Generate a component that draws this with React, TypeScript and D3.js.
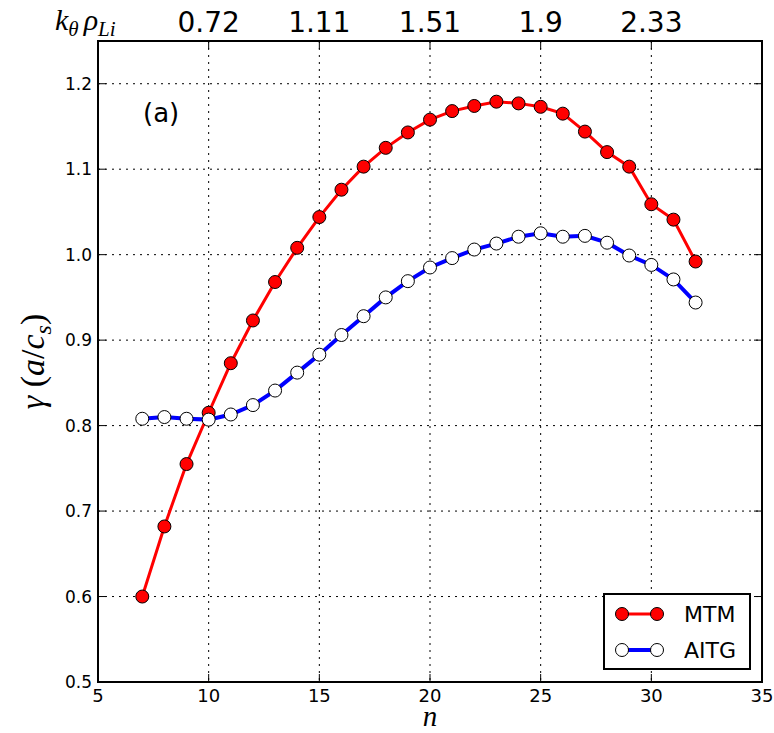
import React from "react";
import * as d3 from "d3";

const nValues = [7, 8, 9, 10, 11, 12, 13, 14, 15, 16, 17, 18, 19, 20, 21, 22, 23, 24, 25, 26, 27, 28, 29, 30, 31, 32];
const mtm = [0.600, 0.682, 0.755, 0.815, 0.873, 0.923, 0.968, 1.008, 1.044, 1.076, 1.103, 1.125, 1.143, 1.158, 1.168, 1.174, 1.179, 1.177, 1.173, 1.165, 1.144, 1.120, 1.103, 1.059, 1.041, 0.992];
const aitg = [0.808, 0.810, 0.808, 0.807, 0.813, 0.824, 0.841, 0.862, 0.883, 0.906, 0.928, 0.950, 0.969, 0.985, 0.996, 1.006, 1.013, 1.021, 1.025, 1.021, 1.022, 1.014, 0.999, 0.988, 0.971, 0.944];
const xTicks = [5, 10, 15, 20, 25, 30, 35];
const yTicks = [0.5, 0.6, 0.7, 0.8, 0.9, 1.0, 1.1, 1.2];
const topTickPos = [10, 15, 20, 25, 30];
const topTickLabels = ["0.72", "1.11", "1.51", "1.9", "2.33"];

export default function App() {
  const W = 774, H = 733;
  const L = 98, R = 762, T = 41, B = 682;
  const x = d3.scaleLinear().domain([5, 35]).range([L, R]);
  const y = d3.scaleLinear().domain([0.5, 1.25]).range([B, T]);
  const line = d3.line<number>().x((_, i) => x(nValues[i])).y((d) => y(d));
  const sans = "DejaVu Sans, sans-serif";
  const serif = "Liberation Serif, DejaVu Serif, serif";
  const tk = 8;
  return (
    <svg width={W} height={H} style={{ position: "absolute", left: 0, top: 0, background: "#fff" }}>
      <rect x={0} y={0} width={W} height={H} fill="#fff" />
      {/* grid */}
      {xTicks.slice(1, -1).map((t) => (
        <line key={"gx" + t} x1={x(t)} x2={x(t)} y1={T} y2={B} stroke="#000" strokeWidth={1} strokeDasharray="2,5" />
      ))}
      {yTicks.slice(1).map((t) => (
        <line key={"gy" + t} x1={L} x2={R} y1={y(t)} y2={y(t)} stroke="#000" strokeWidth={1} strokeDasharray="2,5" />
      ))}
      {/* ticks */}
      {xTicks.map((t) => (
        <g key={"tx" + t}>
          <line x1={x(t)} x2={x(t)} y1={B} y2={B - tk} stroke="#000" />
          <text x={x(t)} y={B + 20} textAnchor="middle" fontFamily={sans} fontSize={18}>{t}</text>
        </g>
      ))}
      {topTickPos.map((t, i) => (
        <g key={"tt" + t}>
          <line x1={x(t)} x2={x(t)} y1={T} y2={T + tk} stroke="#000" />
          <text x={x(t)} y={T - 9} textAnchor="middle" fontFamily={sans} fontSize={28}>{topTickLabels[i]}</text>
        </g>
      ))}
      {yTicks.map((t) => (
        <g key={"ty" + t}>
          <line x1={L} x2={L + tk} y1={y(t)} y2={y(t)} stroke="#000" />
          <line x1={R} x2={R - tk} y1={y(t)} y2={y(t)} stroke="#000" />
          <text x={L - 6} y={y(t) + 6} textAnchor="end" fontFamily={sans} fontSize={17}>{t.toFixed(1)}</text>
        </g>
      ))}
      {/* series */}
      <path d={line(mtm) || ""} fill="none" stroke="#ff0000" strokeWidth={3} />
      <path d={line(aitg) || ""} fill="none" stroke="#0000ff" strokeWidth={4} />
      {mtm.map((v, i) => (
        <circle key={"m" + i} cx={x(nValues[i])} cy={y(v)} r={6.5} fill="#ff0000" stroke="#000" strokeWidth={1} />
      ))}
      {aitg.map((v, i) => (
        <circle key={"a" + i} cx={x(nValues[i])} cy={y(v)} r={6.5} fill="#fff" stroke="#000" strokeWidth={1} />
      ))}
      {/* frame */}
      <rect x={L} y={T} width={R - L} height={B - T} fill="none" stroke="#000" strokeWidth={2} />
      {/* panel label */}
      <text x={143} y={122} fontFamily={sans} fontSize={26}>(a)</text>
      {/* top-left label */}
      <text x={55} y={30} fontFamily={serif} fontStyle="italic" fontSize={30}>
        k<tspan fontSize={21} dy={6}>θ</tspan><tspan dy={-6} dx={5}>ρ</tspan><tspan fontSize={21} dy={6}>Li</tspan>
      </text>
      {/* axis labels */}
      <text x={(L + R) / 2} y={726} textAnchor="middle" fontFamily={serif} fontStyle="italic" fontSize={29}>n</text>
      <text transform={`translate(44, ${(T + B) / 2}) rotate(-90)`} textAnchor="middle" fontFamily={serif} fontStyle="italic" fontSize={34}>
        γ <tspan fontStyle="normal">(</tspan>a<tspan fontStyle="normal">/</tspan>c<tspan fontSize={24} dy={7}>s</tspan><tspan dy={-7} fontStyle="normal">)</tspan>
      </text>
      {/* legend */}
      <rect x={604} y={594} width={146} height={75} fill="#fff" stroke="#000" strokeWidth={2} />
      <line x1={622} x2={657} y1={614} y2={614} stroke="#ff0000" strokeWidth={3} />
      <circle cx={622} cy={614} r={6.5} fill="#ff0000" stroke="#000" />
      <circle cx={657} cy={614} r={6.5} fill="#ff0000" stroke="#000" />
      <text x={684} y={622} fontFamily={sans} fontSize={22}>MTM</text>
      <line x1={622} x2={657} y1={650} y2={650} stroke="#0000ff" strokeWidth={4} />
      <circle cx={622} cy={650} r={6.5} fill="#fff" stroke="#000" />
      <circle cx={657} cy={650} r={6.5} fill="#fff" stroke="#000" />
      <text x={684} y={658} fontFamily={sans} fontSize={22}>AITG</text>
    </svg>
  );
}
